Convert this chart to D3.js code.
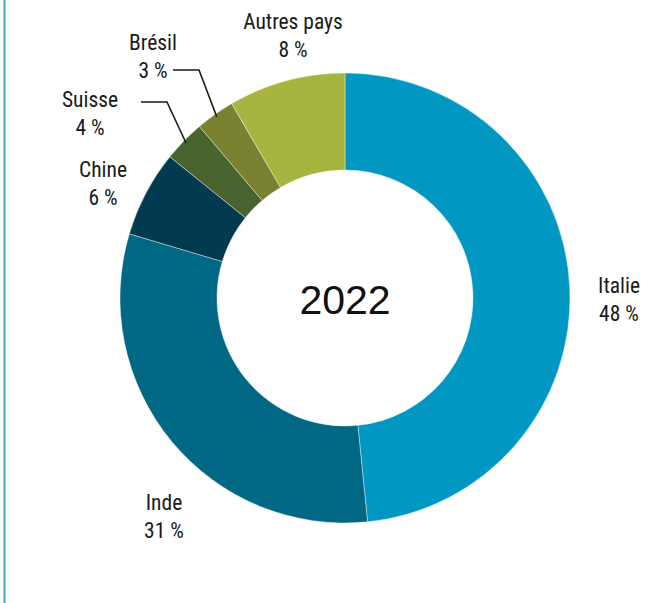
<!DOCTYPE html>
<html lang="fr">
<head>
  <meta charset="UTF-8">
  <title>Donut 2022</title>
  <script src="https://d3js.org/d3.v7.min.js"></script>
  <style>
    body { margin: 0; background: #fff; }
    svg { display: block; }
    .lbl { font-family: "Liberation Sans Narrow", "Roboto Condensed", "Arial Narrow", sans-serif; font-size: 21.5px; fill: #1a1a1a; }
    .year { font-family: "Liberation Sans", Arial, sans-serif; font-size: 41px; fill: #111; }
    .leader { fill: none; stroke: #1a1a1a; stroke-width: 1.6px; }
  </style>
</head>
<body>
  <svg width="664" height="603"></svg>
  <script>
    // données
    const categories = ["Italie", "Inde", "Chine", "Suisse", "Brésil", "Autres pays"];
    const shares = [48.4, 31.2, 6.2, 3.0, 2.8, 8.4];
    // pourcentages affichés
    const printed = [48, 31, 6, 4, 3, 8];
    const colors = ["#0097c2", "#006884", "#023b50", "#48632e", "#7a8232", "#a7b540"];
    const year = "2022";

    const width = 664, height = 603;
    const cx = 345, cy = 298;
    const outerR = 225, innerR = 128;

    // position des étiquettes (par rapport au centre), ancre = milieu, ligne de base 1re ligne
    const labelOffset = {
      "Italie": [274, -5],
      "Inde": [-181, 212],
      "Chine": [-242, -121],
      "Suisse": [-255, -191],
      "Brésil": [-192, -248],
      "Autres pays": [-52, -269]
    };
    // lignes de rappel : début de la ligne horizontale et coude
    const leaders = {
      "Suisse": [[-204, -196], [-178, -196]],
      "Brésil": [[-172, -228], [-146, -228]]
    };

    const svg = d3.select("svg");

    svg.append("line")
      .attr("x1", 4.5).attr("x2", 4.5)
      .attr("y1", 0).attr("y2", height)
      .attr("stroke", "#4aa0c8")
      .attr("stroke-width", 2);

    const g = svg.append("g").attr("transform", `translate(${cx},${cy})`);

    const data = categories.map((c, i) => ({ name: c, value: shares[i], pct: printed[i], color: colors[i] }));

    const pie = d3.pie().value(d => d.value).sort(null);
    const arcs = pie(data);
    const arc = d3.arc().innerRadius(innerR).outerRadius(outerR);

    g.selectAll("path.slice")
      .data(arcs)
      .join("path")
      .attr("class", "slice")
      .attr("d", arc)
      .attr("fill", d => d.data.color)
      .attr("stroke", "#fff")
      .attr("stroke-width", 0.4);

    // lignes de rappel
    arcs.filter(d => leaders[d.data.name]).forEach(d => {
      const mid = (d.startAngle + d.endAngle) / 2;
      const r = outerR - 3;
      const end = [r * Math.sin(mid), -r * Math.cos(mid)];
      const pts = leaders[d.data.name].concat([end]);
      g.append("path")
        .attr("class", "leader")
        .attr("d", d3.line()(pts));
    });

    // étiquettes
    const labels = g.selectAll("text.lbl")
      .data(arcs)
      .join("text")
      .attr("class", "lbl")
      .attr("text-anchor", "middle")
      .attr("transform", d => `translate(${labelOffset[d.data.name][0]},${labelOffset[d.data.name][1]})`);

    labels.append("tspan").attr("x", 0).attr("y", 0).text(d => d.data.name);
    labels.append("tspan").attr("x", 0).attr("y", 28).text(d => d.data.pct + "\u00a0%");

    g.append("text")
      .attr("class", "year")
      .attr("text-anchor", "middle")
      .attr("y", 16)
      .text(year);
  </script>
</body>
</html>
